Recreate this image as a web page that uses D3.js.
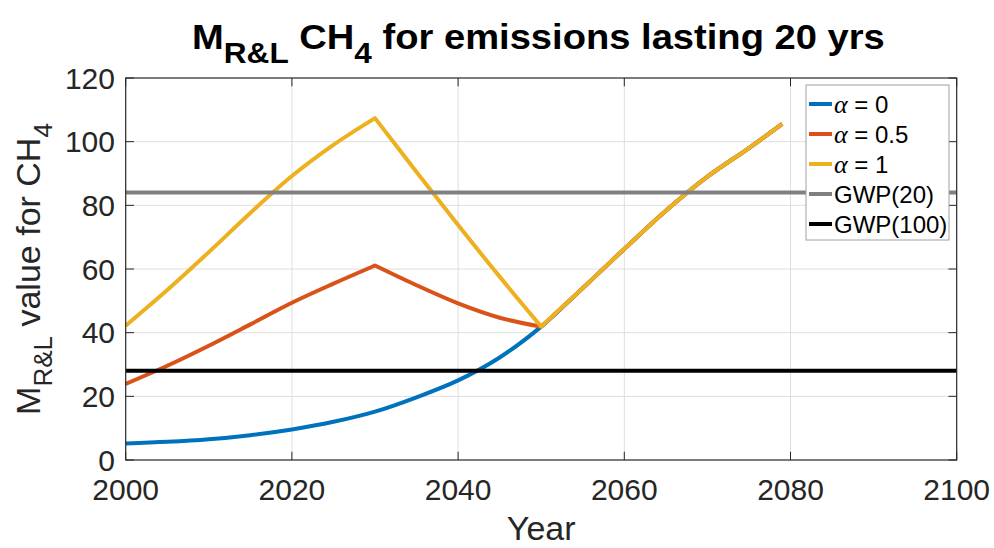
<!DOCTYPE html>
<html><head><meta charset="utf-8">
<script src="https://cdn.jsdelivr.net/npm/d3@7"></script>
<style>body{margin:0;background:#fff;}</style>
</head><body>
<svg id="chart" width="994" height="548"></svg>
<script>
// ---- data ----
const years = [2000, 2005, 2010, 2015, 2020, 2025, 2030, 2035, 2040, 2045, 2050, 2055, 2060, 2065, 2070, 2075, 2079];
const alpha0  = [5.2, 5.7, 6.5, 7.8, 9.6, 12.0, 15.2, 19.7, 25.0, 32.2, 41.9, 54.0, 66.3, 78.3, 89.0, 98.0, 105.6];
const alpha05 = [23.9, 29.6, 35.9, 42.6, 49.4, 55.4, 61.1, 54.9, 49.2, 44.7, 41.9, 54.0, 66.3, 78.3, 89.0, 98.0, 105.6];
const alpha1  = [42.2, 53.4, 65.3, 77.6, 89.2, 99.0, 107.4, 90.5, 73.8, 57.6, 41.9, 54.0, 66.3, 78.3, 89.0, 98.0, 105.6];
const gwpYears = [2000, 2100];
const gwp20  = [84, 84];
const gwp100 = [28, 28];
const xTicks = [2000, 2020, 2040, 2060, 2080, 2100];
const yTicks = [0, 20, 40, 60, 80, 100, 120];
const seriesNames = ["α = 0", "α = 0.5", "α = 1", "GWP(20)", "GWP(100)"];
const colors = ["#0072BD", "#D95319", "#EDB120", "#808080", "#000000"];

// ---- layout ----
const svg = d3.select("#chart");
const L = 125.7, R = 956.7, T = 78, B = 460;
const x = d3.scaleLinear().domain([2000, 2100]).range([L, R]);
const y = d3.scaleLinear().domain([0, 120]).range([B, T]);
const axisColor = "#262626";
const sans = "'Liberation Sans', Arial, Helvetica, sans-serif";

svg.append("defs").append("clipPath").attr("id", "clip")
  .append("rect").attr("x", L).attr("y", T).attr("width", R - L).attr("height", B - T);

// grid
const grid = svg.append("g");
grid.selectAll(".gx").data(xTicks.slice(1, -1)).join("line")
  .attr("x1", d => x(d)).attr("x2", d => x(d)).attr("y1", T).attr("y2", B)
  .attr("stroke", "#dedede").attr("stroke-width", 1);
grid.selectAll(".gy").data(yTicks.slice(1, -1)).join("line")
  .attr("x1", L).attr("x2", R).attr("y1", d => y(d)).attr("y2", d => y(d))
  .attr("stroke", "#dedede").attr("stroke-width", 1);

// lines
const seriesData = [
  years.map((yr, i) => [yr, alpha0[i]]),
  years.map((yr, i) => [yr, alpha05[i]]),
  years.map((yr, i) => [yr, alpha1[i]]),
  gwpYears.map((yr, i) => [yr, gwp20[i]]),
  gwpYears.map((yr, i) => [yr, gwp100[i]])
];
const line = d3.line().x(d => x(d[0])).y(d => y(d[1])).curve(d3.curveCatmullRom.alpha(0.5));
const lineStraight = d3.line().x(d => x(d[0])).y(d => y(d[1]));
const lg = svg.append("g").attr("clip-path", "url(#clip)");
seriesData.forEach((s, i) => {
  let path;
  if (i === 1 || i === 2) {
    const seg1 = s.filter(d => d[0] <= 2030);
    const seg2 = s.filter(d => d[0] >= 2030 && d[0] <= 2050);
    const seg3 = s.filter(d => d[0] >= 2050);
    path = line(seg1) + line(seg2).replace(/^M/, "L") + line(seg3).replace(/^M/, "L");
  } else if (i < 3) {
    path = line(s);
  } else {
    path = lineStraight(s);
  }
  lg.append("path").attr("d", path).attr("fill", "none")
    .attr("stroke", colors[i]).attr("stroke-width", 4)
    .attr("stroke-linejoin", "round");
});

// axes box and ticks
const ax = svg.append("g");
ax.append("rect").attr("x", L).attr("y", T).attr("width", R - L).attr("height", B - T)
  .attr("fill", "none").attr("stroke", axisColor).attr("stroke-width", 1.2);
const tl = 8.3;
xTicks.forEach(t => {
  ax.append("line").attr("x1", x(t)).attr("x2", x(t)).attr("y1", B).attr("y2", B - tl).attr("stroke", axisColor);
  ax.append("line").attr("x1", x(t)).attr("x2", x(t)).attr("y1", T).attr("y2", T + tl).attr("stroke", axisColor);
  ax.append("text").attr("x", x(t)).attr("y", 500).attr("text-anchor", "middle")
    .attr("font-family", sans).attr("font-size", 30).attr("fill", axisColor).text(t);
});
yTicks.forEach(t => {
  ax.append("line").attr("x1", L).attr("x2", L + tl).attr("y1", y(t)).attr("y2", y(t)).attr("stroke", axisColor);
  ax.append("line").attr("x1", R).attr("x2", R - tl).attr("y1", y(t)).attr("y2", y(t)).attr("stroke", axisColor);
  ax.append("text").attr("x", 115).attr("y", y(t) + 10.5).attr("text-anchor", "end")
    .attr("font-family", sans).attr("font-size", 30).attr("fill", axisColor).text(t);
});

// rich text helper
function rich(g, parts, size, subSize, subDy, weight) {
  const t = g.append("text").attr("font-family", sans).attr("font-size", size)
    .attr("font-weight", weight || "normal").attr("fill", weight ? "#000" : axisColor);
  parts.forEach(p => {
    const ts = t.append("tspan").text(p.t);
    if (p.sub) ts.attr("font-size", subSize).attr("dy", subDy);
    if (p.back) ts.attr("dy", -subDy);
  });
  return t;
}

// title
const tg = svg.append("g");
const title = rich(tg, [{t: "M"}, {t: "R&L", sub: true}, {t: " CH", back: true}, {t: "4", sub: true}, {t: " for emissions lasting 20 yrs", back: true}], 35, 29, 14, "bold");
title.attr("x", 0).attr("y", 0);
{
  const w = title.node().getComputedTextLength();
  const target = 885 - 192;
  tg.attr("transform", `translate(192,49) scale(${target / w},1)`);
}

// x label
svg.append("text").attr("x", (L + R) / 2).attr("y", 540).attr("text-anchor", "middle")
  .attr("font-family", sans).attr("font-size", 34).attr("fill", axisColor).text("Year");

// y label
const yg = svg.append("g");
const ylab = rich(yg, [{t: "M"}, {t: "R&L", sub: true}, {t: " value for CH", back: true}, {t: "4", sub: true}], 34, 26, 12);
{
  const w = ylab.node().getComputedTextLength();
  yg.attr("transform", `translate(40,${269 + w / 2}) rotate(-90)`);
}

// legend
const leg = svg.append("g");
leg.append("rect").attr("x", 806).attr("y", 85).attr("width", 143).attr("height", 155)
  .attr("fill", "#fff").attr("stroke", "#a0a0a0").attr("stroke-width", 1);
seriesNames.forEach((n, i) => {
  const cy = 104 + i * 30;
  leg.append("line").attr("x1", 809).attr("x2", 832).attr("y1", cy).attr("y2", cy)
    .attr("stroke", colors[i]).attr("stroke-width", 4);
  const t = leg.append("text").attr("x", 834).attr("y", cy + 8.5)
    .attr("font-family", sans).attr("font-size", 24).attr("fill", "#000");
  if (n.startsWith("α")) {
    t.append("tspan").attr("font-family", "'Liberation Serif', 'DejaVu Serif', serif")
      .attr("font-style", "italic").attr("font-size", 26).text("α");
    t.append("tspan").text(n.slice(1));
  } else {
    t.text(n);
  }
});
</script>
</body></html>
